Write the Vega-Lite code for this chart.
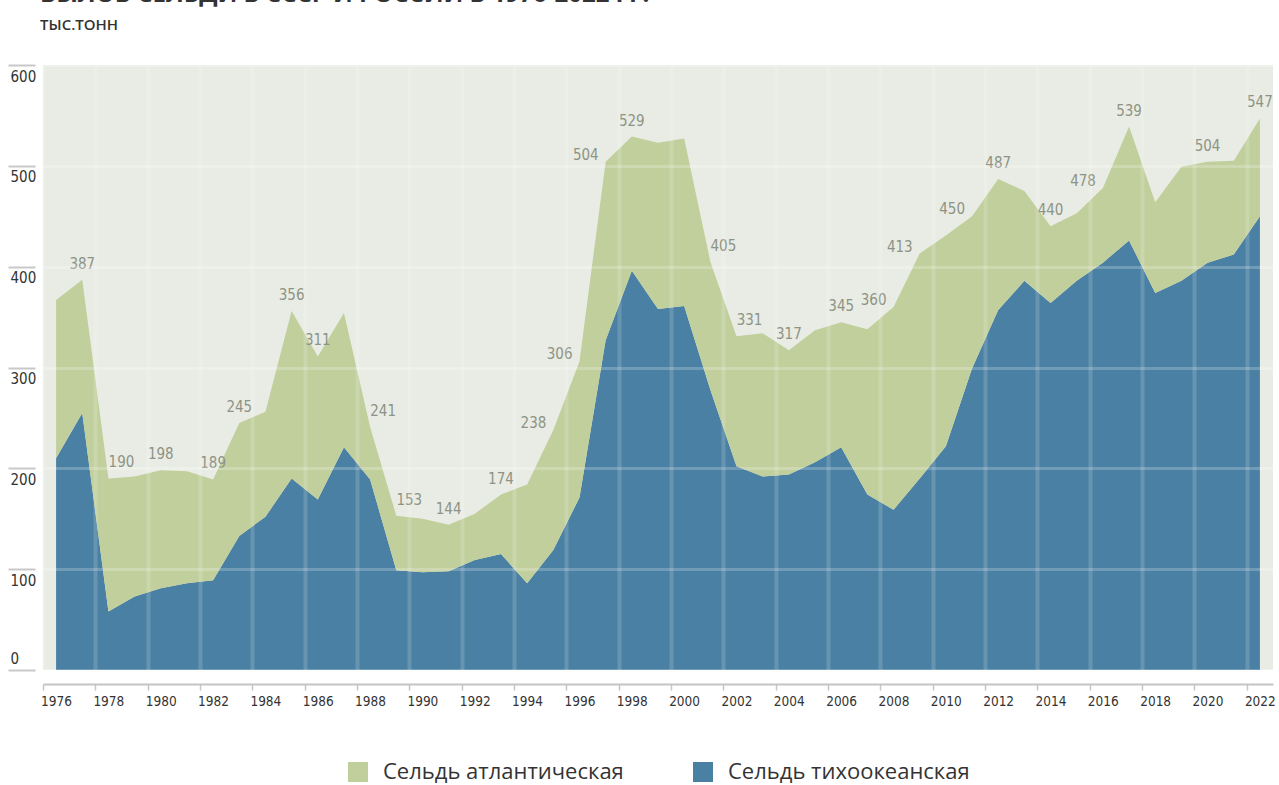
{
  "$schema": "https://vega.github.io/schema/vega-lite/v6.json",
  "width": 1230,
  "height": 605,
  "autosize": "none",
  "padding": {"left": 43, "top": 65, "right": 6, "bottom": 115},
  "background": "#ffffff",
  "view": {"fill": "#e9ece4", "stroke": null},
  "title": {
    "text": "ВЫЛОВ СЕЛЬДИ В СССР И РОССИИ В 1976-2022 ГГ.",
    "subtitle": "ТЫС.ТОНН",
    "anchor": "start",
    "frame": "group",
    "offset": 31,
    "dx": -3,
    "font": "Open Sans",
    "fontSize": 24,
    "fontWeight": "bold",
    "color": "#333333",
    "subtitleFont": "Open Sans",
    "subtitleFontSize": 15,
    "subtitleFontWeight": 600,
    "subtitleColor": "#333333",
    "subtitlePadding": 11
  },
  "datasets": {
    "catch": [
      {"year": 1976, "species": "Сельдь тихоокеанская", "value": 210}, {"year": 1976, "species": "Сельдь атлантическая", "value": 157},
      {"year": 1977, "species": "Сельдь тихоокеанская", "value": 255}, {"year": 1977, "species": "Сельдь атлантическая", "value": 132},
      {"year": 1978, "species": "Сельдь тихоокеанская", "value": 58}, {"year": 1978, "species": "Сельдь атлантическая", "value": 132},
      {"year": 1979, "species": "Сельдь тихоокеанская", "value": 73}, {"year": 1979, "species": "Сельдь атлантическая", "value": 119},
      {"year": 1980, "species": "Сельдь тихоокеанская", "value": 81}, {"year": 1980, "species": "Сельдь атлантическая", "value": 117},
      {"year": 1981, "species": "Сельдь тихоокеанская", "value": 86}, {"year": 1981, "species": "Сельдь атлантическая", "value": 111},
      {"year": 1982, "species": "Сельдь тихоокеанская", "value": 89}, {"year": 1982, "species": "Сельдь атлантическая", "value": 100},
      {"year": 1983, "species": "Сельдь тихоокеанская", "value": 133}, {"year": 1983, "species": "Сельдь атлантическая", "value": 112},
      {"year": 1984, "species": "Сельдь тихоокеанская", "value": 152}, {"year": 1984, "species": "Сельдь атлантическая", "value": 104},
      {"year": 1985, "species": "Сельдь тихоокеанская", "value": 190}, {"year": 1985, "species": "Сельдь атлантическая", "value": 166},
      {"year": 1986, "species": "Сельдь тихоокеанская", "value": 169}, {"year": 1986, "species": "Сельдь атлантическая", "value": 142},
      {"year": 1987, "species": "Сельдь тихоокеанская", "value": 221}, {"year": 1987, "species": "Сельдь атлантическая", "value": 133},
      {"year": 1988, "species": "Сельдь тихоокеанская", "value": 189}, {"year": 1988, "species": "Сельдь атлантическая", "value": 52},
      {"year": 1989, "species": "Сельдь тихоокеанская", "value": 99}, {"year": 1989, "species": "Сельдь атлантическая", "value": 54},
      {"year": 1990, "species": "Сельдь тихоокеанская", "value": 97}, {"year": 1990, "species": "Сельдь атлантическая", "value": 53},
      {"year": 1991, "species": "Сельдь тихоокеанская", "value": 98}, {"year": 1991, "species": "Сельдь атлантическая", "value": 46},
      {"year": 1992, "species": "Сельдь тихоокеанская", "value": 109}, {"year": 1992, "species": "Сельдь атлантическая", "value": 46},
      {"year": 1993, "species": "Сельдь тихоокеанская", "value": 115}, {"year": 1993, "species": "Сельдь атлантическая", "value": 59},
      {"year": 1994, "species": "Сельдь тихоокеанская", "value": 86}, {"year": 1994, "species": "Сельдь атлантическая", "value": 98},
      {"year": 1995, "species": "Сельдь тихоокеанская", "value": 119}, {"year": 1995, "species": "Сельдь атлантическая", "value": 119},
      {"year": 1996, "species": "Сельдь тихоокеанская", "value": 171}, {"year": 1996, "species": "Сельдь атлантическая", "value": 135},
      {"year": 1997, "species": "Сельдь тихоокеанская", "value": 327}, {"year": 1997, "species": "Сельдь атлантическая", "value": 177},
      {"year": 1998, "species": "Сельдь тихоокеанская", "value": 396}, {"year": 1998, "species": "Сельдь атлантическая", "value": 133},
      {"year": 1999, "species": "Сельдь тихоокеанская", "value": 358}, {"year": 1999, "species": "Сельдь атлантическая", "value": 165},
      {"year": 2000, "species": "Сельдь тихоокеанская", "value": 361}, {"year": 2000, "species": "Сельдь атлантическая", "value": 166},
      {"year": 2001, "species": "Сельдь тихоокеанская", "value": 278}, {"year": 2001, "species": "Сельдь атлантическая", "value": 127},
      {"year": 2002, "species": "Сельдь тихоокеанская", "value": 202}, {"year": 2002, "species": "Сельдь атлантическая", "value": 129},
      {"year": 2003, "species": "Сельдь тихоокеанская", "value": 192}, {"year": 2003, "species": "Сельдь атлантическая", "value": 142},
      {"year": 2004, "species": "Сельдь тихоокеанская", "value": 194}, {"year": 2004, "species": "Сельдь атлантическая", "value": 123},
      {"year": 2005, "species": "Сельдь тихоокеанская", "value": 206}, {"year": 2005, "species": "Сельдь атлантическая", "value": 131},
      {"year": 2006, "species": "Сельдь тихоокеанская", "value": 221}, {"year": 2006, "species": "Сельдь атлантическая", "value": 124},
      {"year": 2007, "species": "Сельдь тихоокеанская", "value": 174}, {"year": 2007, "species": "Сельдь атлантическая", "value": 164},
      {"year": 2008, "species": "Сельдь тихоокеанская", "value": 159}, {"year": 2008, "species": "Сельдь атлантическая", "value": 201},
      {"year": 2009, "species": "Сельдь тихоокеанская", "value": 190}, {"year": 2009, "species": "Сельдь атлантическая", "value": 223},
      {"year": 2010, "species": "Сельдь тихоокеанская", "value": 222}, {"year": 2010, "species": "Сельдь атлантическая", "value": 209},
      {"year": 2011, "species": "Сельдь тихоокеанская", "value": 299}, {"year": 2011, "species": "Сельдь атлантическая", "value": 151},
      {"year": 2012, "species": "Сельдь тихоокеанская", "value": 357}, {"year": 2012, "species": "Сельдь атлантическая", "value": 130},
      {"year": 2013, "species": "Сельдь тихоокеанская", "value": 386}, {"year": 2013, "species": "Сельдь атлантическая", "value": 89},
      {"year": 2014, "species": "Сельдь тихоокеанская", "value": 364}, {"year": 2014, "species": "Сельдь атлантическая", "value": 76},
      {"year": 2015, "species": "Сельдь тихоокеанская", "value": 386}, {"year": 2015, "species": "Сельдь атлантическая", "value": 67},
      {"year": 2016, "species": "Сельдь тихоокеанская", "value": 404}, {"year": 2016, "species": "Сельдь атлантическая", "value": 74},
      {"year": 2017, "species": "Сельдь тихоокеанская", "value": 426}, {"year": 2017, "species": "Сельдь атлантическая", "value": 113},
      {"year": 2018, "species": "Сельдь тихоокеанская", "value": 374}, {"year": 2018, "species": "Сельдь атлантическая", "value": 90},
      {"year": 2019, "species": "Сельдь тихоокеанская", "value": 386}, {"year": 2019, "species": "Сельдь атлантическая", "value": 113},
      {"year": 2020, "species": "Сельдь тихоокеанская", "value": 404}, {"year": 2020, "species": "Сельдь атлантическая", "value": 100},
      {"year": 2021, "species": "Сельдь тихоокеанская", "value": 412}, {"year": 2021, "species": "Сельдь атлантическая", "value": 93},
      {"year": 2022, "species": "Сельдь тихоокеанская", "value": 450}, {"year": 2022, "species": "Сельдь атлантическая", "value": 97}
    ],
    "labels": [
      {"year": 1977, "total": 387}, {"year": 1978, "total": 190}, {"year": 1980, "total": 198},
      {"year": 1982, "total": 189}, {"year": 1983, "total": 245}, {"year": 1985, "total": 356},
      {"year": 1986, "total": 311}, {"year": 1988, "total": 241}, {"year": 1989, "total": 153},
      {"year": 1991, "total": 144}, {"year": 1993, "total": 174}, {"year": 1995, "total": 238},
      {"year": 1996, "total": 306}, {"year": 1997, "total": 504}, {"year": 1998, "total": 529},
      {"year": 2001, "total": 405}, {"year": 2002, "total": 331}, {"year": 2004, "total": 317},
      {"year": 2006, "total": 345}, {"year": 2008, "total": 360}, {"year": 2009, "total": 413},
      {"year": 2011, "total": 450}, {"year": 2012, "total": 487}, {"year": 2014, "total": 440},
      {"year": 2016, "total": 478}, {"year": 2017, "total": 539}, {"year": 2020, "total": 504},
      {"year": 2022, "total": 547}
    ]
  },
  "layer": [
    {
      "data": {"name": "catch"},
      "mark": {"type": "area", "strokeWidth": 0, "opacity": 1},
      "encoding": {
        "x": {
          "field": "year",
          "type": "quantitative",
          "scale": {"domain": [1975.5, 2022.5], "nice": false, "zero": false},
          "axis": {
            "title": null,
            "values": [1975.5, 1976.5, 1977.5, 1978.5, 1979.5, 1980.5, 1981.5, 1982.5, 1983.5, 1984.5, 1985.5, 1986.5, 1987.5, 1988.5, 1989.5, 1990.5, 1991.5, 1992.5, 1993.5, 1994.5, 1995.5, 1996.5, 1997.5, 1998.5, 1999.5, 2000.5, 2001.5, 2002.5, 2003.5, 2004.5, 2005.5, 2006.5, 2007.5, 2008.5, 2009.5, 2010.5, 2011.5, 2012.5, 2013.5, 2014.5, 2015.5, 2016.5, 2017.5, 2018.5, 2019.5, 2020.5, 2021.5, 2022.5],
            "labelExpr": "(datum.value + 0.5) % 2 === 0 ? '' + (datum.value + 0.5) : ''",
            "labelOffset": 13,
            "labelOverlap": false,
            "labelBound": false,
            "labelFlush": false,
            "labelPadding": 4,
            "labelFont": "DejaVu Sans Condensed, sans-serif",
            "labelFontSize": 13.5,
            "labelColor": "#333333",
            "offset": 14,
            "domain": true,
            "domainColor": "#c4c4c4",
            "domainWidth": 2,
            "ticks": true,
            "tickColor": "#c4c4c4",
            "tickWidth": 1.5,
            "tickSize": 6,
            "grid": true,
            "gridColor": "#ffffff",
            "gridOpacity": 0.16,
            "gridWidth": 4,
            "zindex": 1
          }
        },
        "y": {
          "field": "value",
          "type": "quantitative",
          "stack": "zero",
          "scale": {"domain": [0, 600], "nice": false},
          "axis": {
            "title": null,
            "values": [0, 100, 200, 300, 400, 500, 600],
            "domain": false,
            "offset": 8,
            "ticks": true,
            "tickColor": "#c8c8c8",
            "tickWidth": 2,
            "tickSize": 27,
            "labelAlign": "left",
            "labelPadding": -2,
            "labelBaseline": {"condition": {"test": "datum.value === 0", "value": "bottom"}, "value": "top"},
            "labelOffset": {"condition": {"test": "datum.value === 0", "value": -4}, "value": 4},
            "labelFont": "DejaVu Sans Condensed, sans-serif",
            "labelFontSize": 15,
            "labelColor": "#333333",
            "grid": true,
            "gridColor": "#ffffff",
            "gridOpacity": 0.22,
            "gridWidth": 3,
            "zindex": 1
          }
        },
        "color": {
          "field": "species",
          "type": "nominal",
          "scale": {"domain": ["Сельдь атлантическая", "Сельдь тихоокеанская"], "range": ["#c0cf9b", "#4a80a3"]},
          "legend": {
            "title": null,
            "orient": "none",
            "legendX": 304,
            "legendY": 696,
            "direction": "horizontal",
            "symbolType": "square",
            "symbolSize": 400,
            "symbolStrokeWidth": 0,
            "symbolOpacity": 1,
            "labelFont": "Open Sans",
            "labelFontSize": 22,
            "labelColor": "#333333",
            "labelOffset": 14,
            "labelLimit": 0,
            "columnPadding": 68
          }
        },
        "order": {"field": "species", "sort": "descending"}
      }
    },
    {
      "data": {"name": "labels"},
      "transform": [{"filter": {"not": {"field": "year", "oneOf": [1978, 1988, 1989, 2001, 2002, 1995, 1996, 1997, 2008, 2009, 2011, 2016]}}}],
      "mark": {"type": "text", "font": "DejaVu Sans Condensed, sans-serif", "fontSize": 15, "color": "#8d9385", "baseline": "middle", "align": "center", "dy": -16},
      "encoding": {
        "x": {"field": "year", "type": "quantitative", "scale": {"domain": [1975.5, 2022.5], "nice": false, "zero": false}},
        "y": {"field": "total", "type": "quantitative", "scale": {"domain": [0, 600], "nice": false}},
        "text": {"field": "total", "type": "quantitative"}
      }
    },
    {
      "data": {"name": "labels"},
      "transform": [{"filter": {"field": "year", "oneOf": [1978, 1988, 1989, 2001, 2002]}}],
      "mark": {"type": "text", "font": "DejaVu Sans Condensed, sans-serif", "fontSize": 15, "color": "#8d9385", "baseline": "middle", "align": "center", "dx": 13, "dy": -16},
      "encoding": {
        "x": {"field": "year", "type": "quantitative", "scale": {"domain": [1975.5, 2022.5], "nice": false, "zero": false}},
        "y": {"field": "total", "type": "quantitative", "scale": {"domain": [0, 600], "nice": false}},
        "text": {"field": "total", "type": "quantitative"}
      }
    },
    {
      "data": {"name": "labels"},
      "transform": [{"filter": {"field": "year", "oneOf": [1995, 1996, 1997, 2008, 2009, 2011, 2016]}}],
      "mark": {"type": "text", "font": "DejaVu Sans Condensed, sans-serif", "fontSize": 15, "color": "#8d9385", "baseline": "middle", "align": "right", "dx": -7, "dy": -7},
      "encoding": {
        "x": {"field": "year", "type": "quantitative", "scale": {"domain": [1975.5, 2022.5], "nice": false, "zero": false}},
        "y": {"field": "total", "type": "quantitative", "scale": {"domain": [0, 600], "nice": false}},
        "text": {"field": "total", "type": "quantitative"}
      }
    }
  ]
}
